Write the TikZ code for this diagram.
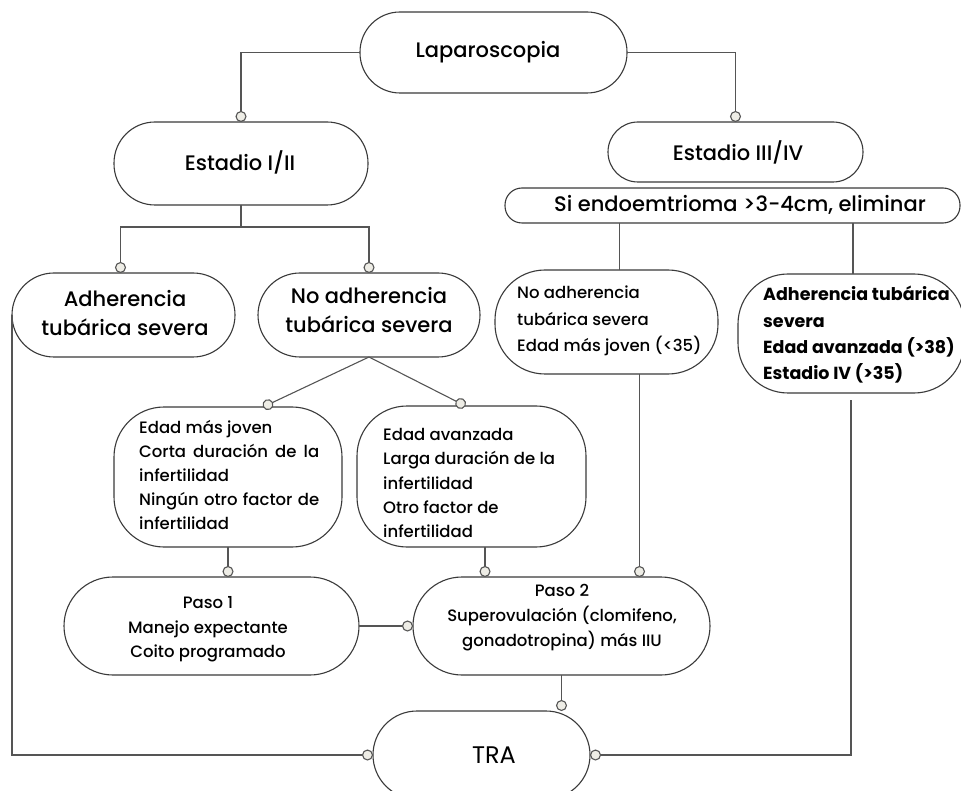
\documentclass[tikz,border=0pt]{standalone}
\usepackage{fontspec}
\IfFontExistsTF{Poppins Medium}{\setmainfont{Poppins Medium}[BoldFont=Poppins Bold]}{\setmainfont{Poppins}}
\newfontfamily\regfont{Poppins}
\usetikzlibrary{arrows.meta,calc}
\definecolor{linec}{HTML}{555555}
\definecolor{boxc}{HTML}{3A3A3A}
\definecolor{dotf}{HTML}{EEEDE6}
\tikzset{
  box/.style={draw=boxc, line width=1.1pt, inner sep=0pt, outer sep=0pt, fill=white},
  conn/.style={draw=linec, line width=1.1pt},
  dot/.style={conn, -{Circle[length=11pt, width=11pt, fill=dotf, line width=1.1pt]}},
  txt/.style={inner sep=0pt, text=black},
  bigt/.style={txt, font=\fontsize{21}{29}\selectfont},
  smallt/.style={txt, font=\fontsize{16.5}{24}\selectfont, align=left, anchor=north west},
}
\begin{document}
\begin{tikzpicture}[x=1pt,y=-1pt]
\useasboundingbox (0,0) rectangle (961,791);
\clip (0,0) rectangle (961,791);
% boxes
\node[box, minimum width=267, minimum height=81, rounded corners=40] (lap) at (493.5,52.5) {};
\node[box, minimum width=254, minimum height=83, rounded corners=41] (e12) at (241,163.5) {};
\node[box, minimum width=255, minimum height=60, rounded corners=30] (e34) at (735.5,152) {};
\node[box, minimum width=455, minimum height=35, rounded corners=17] (siendo) at (732.5,205.5) {};
\node[box, minimum width=223, minimum height=84, rounded corners=42] (adhL) at (123.5,315) {};
\node[box, minimum width=222, minimum height=84, rounded corners=42] (noadh) at (369,315) {};
\node[box, minimum width=228, minimum height=140, rounded corners=50] (edadJ) at (228,477) {};
\node[box, minimum width=229, minimum height=141, rounded corners=50] (edadA) at (471.5,476.5) {};
\node[box, minimum width=223, minimum height=104, rounded corners=50] (noadhR) at (606.5,322) {};
\node[box, minimum width=226, minimum height=119, rounded corners=50] (adhR) at (851,333.5) {};
\node[box, minimum width=295, minimum height=98, rounded corners=49] (paso1) at (211.5,626) {};
\node[box, minimum width=297, minimum height=98, rounded corners=49] (paso2) at (561.5,626) {};
\node[box, minimum width=217, minimum height=88, rounded corners=44] (tra) at (481.5,755) {};
% texts
\node[bigt] (tlap) at (488,52) {Laparoscopia};
\node[bigt] (te12) at (240,162) {Estadio I/II};
\node[bigt] (te34) at (738,152) {Estadio III/IV};
\node[bigt] (tsi) at (740,205) {Si endoemtrioma >3-4cm, eliminar};
\node[bigt, align=center] (tadhL) at (125,313.5) {Adherencia\\tubárica severa};
\node[bigt, align=center] (tnoadh) at (369,310) {No adherencia\\tubárica severa};
\node[smallt] (tedadJ) at (139,420) {Edad más joven\\\makebox[180pt][s]{Corta duración de la}\\infertilidad\\\makebox[180pt][s]{Ningún otro factor de}\\infertilidad};
\node[smallt, font=\fontsize{16.5}{24.3}\selectfont] (tedadA) at (383,428) {Edad avanzada\\Larga duración de la\\infertilidad\\Otro factor de\\infertilidad};
\node[smallt, font=\fontsize{16.5}{26.5}\selectfont] (tnoadhR) at (517,286) {No adherencia\\tubárica severa\\Edad más joven (<35)};
\node[smallt, font=\bfseries\fontsize{17.5}{26.3}\selectfont] (tadhR) at (763,286) {Adherencia tubárica\\severa\\Edad avanzada (>38)\\Estadio IV (>35)};
\node[txt, align=center, font=\fontsize{16.5}{24.5}\selectfont] (tpaso1) at (208,629.5) {Paso 1\\Manejo expectante\\Coito programado};
\node[txt, align=center, font=\fontsize{16.5}{25}\selectfont] (tpaso2) at (562,618) {Paso 2\\Superovulación (clomifeno,\\gonadotropina) más IIU};
\node[txt, font=\regfont\fontsize{24}{28}\selectfont] (ttra) at (494,755) {TRA};
% connectors
\draw[dot] (lap.west) -| (e12.north);
\draw[dot] (lap.east) -| (e34.north);
\draw[dot] (e12.south) -- ++(0,22) -| ([xshift=-3]adhL.north);
\draw[dot] (e12.south) -- ++(0,22) -| (noadh.north);
\draw[dot] (noadh.south) -- ([xshift=35]edadJ.north);
\draw[dot] (noadh.south) -- ([xshift=-6]edadA.north);
\coordinate (a1) at ([xshift=13]noadhR.north);
\draw[conn] (a1 |- siendo.south) -- (a1);
\coordinate (a2) at ([xshift=2]adhR.north);
\draw[conn] (a2 |- siendo.south) -- (a2);
\coordinate (b1) at ([xshift=33]noadhR.south);
\draw[dot] (b1) -- (b1 |- paso2.north);
\coordinate (b2) at ([xshift=13.5]edadA.south);
\draw[dot] (b2) -- (b2 |- paso2.north);
\coordinate (b3) at (edadJ.south);
\draw[dot] (b3) -- (b3 |- paso1.north);
\draw[dot] (paso1.east) -- (paso2.west);
\draw[dot] (paso2.south) -- (paso2.south |- tra.north);
\draw[dot] (adhL.west) |- (tra.west);
\draw[dot] ([yshift=-7]adhR.south) |- (tra.east);
\end{tikzpicture}
\end{document}
